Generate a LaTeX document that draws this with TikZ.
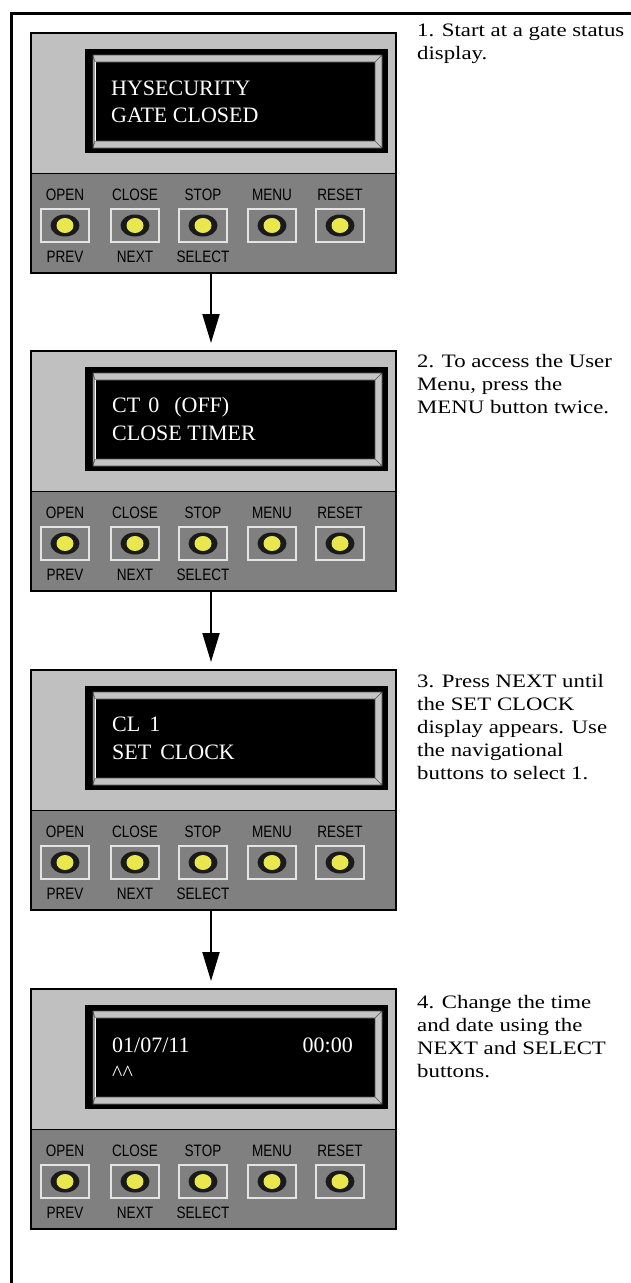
\documentclass[tikz,border=0pt]{standalone}
\usepackage{fontspec}
\setmainfont{Liberation Serif}
\newfontfamily\keyfont[FakeStretch=0.82]{Liberation Sans}
\newfontfamily\stepfont[FakeStretch=1.2]{Liberation Serif}
\usetikzlibrary{arrows.meta,positioning}
\definecolor{panellight}{HTML}{C0C0C0}
\definecolor{paneldark}{HTML}{808080}
\definecolor{bevelgray}{HTML}{C4C4C4}
\definecolor{bevelline}{HTML}{505050}
\definecolor{keyrim}{HTML}{E4E4E4}
\definecolor{keyblack}{HTML}{1A1A1A}
\definecolor{keyyellow}{HTML}{E8E84E}
\tikzset{
  panel/.style={fill=panellight, minimum width=365pt, minimum height=240pt, anchor=north west, inner sep=0pt, outer sep=0pt},
  lcdtext/.style={anchor=base west, text=white, font=\fontsize{22}{26}\selectfont, inner sep=0pt},
  keylabel/.style={font=\keyfont\fontsize{16.5}{18}\selectfont, inner sep=0pt},
  stepnote/.style={anchor=base west, align=left, font=\stepfont\fontsize{19}{23}\selectfont, inner sep=0pt},
  flowarrow/.style={line width=2pt, -{Triangle[length=29pt,width=17pt]}, shorten >=8pt}
}
\begin{document}
\begin{tikzpicture}[x=1pt,y=-1pt]
\useasboundingbox (0,0) rectangle (631,1283);
\draw[line width=3pt] (11.5,1283) -- (11.5,13) -- (631,13);

\foreach \n/\y in {1/33,2/351,3/670,4/989}{
  \node[panel] (p\n) at (31,\y) {};
  \begin{scope}[shift={(31,\y)}]
    \fill[paneldark] (0,140) rectangle (365,240);
    \draw[line width=1pt] (0,140) -- (365,140);
    % display window
    \fill[black] (54,16) rectangle (357,120);
    \fill[bevelgray, even odd rule] (62,22) rectangle (351,115) (64,29) rectangle (344,108);
    \draw[bevelline, line width=0.6pt] (62,22) rectangle (351,115) (64,29) rectangle (344,108)
      (62,22) -- (64,29) (351,22) -- (344,29) (351,115) -- (344,108) (62,115) -- (64,108);
    \draw[white, line width=0.8pt] (64,29) -- (64,108);
    % keys
    \foreach \k/\kx in {OPEN/34,CLOSE/104,STOP/172,MENU/241,RESET/309}{
      \node[keylabel] (p\n-\k) at (\kx,162) {\k};
      \draw[keyrim, line width=1.2pt] (\kx-24,176) rectangle (\kx+24,209);
      \fill[keyblack] (\kx,192.5) ellipse [x radius=14.5pt, y radius=11pt];
      \fill[keyyellow] (\kx,192.5) ellipse [x radius=8.5pt, y radius=7.5pt];
    }
    \foreach \k/\kx in {PREV/34,NEXT/104,SELECT/172}
      \node[keylabel] (p\n-\k) at (\kx,224) {\k};
    \draw[line width=1.5pt] (0,0) rectangle (365,240);
  \end{scope}
}

\node[lcdtext] (d1a) at ([shift={(80,62)}]p1.north west) {HYSECURITY};
\node[lcdtext] (d1b) at ([shift={(80,89)}]p1.north west) {GATE CLOSED};
\node[lcdtext] (d2a) at ([shift={(81,61)}]p2.north west) {CT\hspace{8pt}0\hspace{15pt}(OFF)};
\node[lcdtext] (d2b) at ([shift={(81,89)}]p2.north west) {CLOSE TIMER};
\node[lcdtext] (d3a) at ([shift={(81,61)}]p3.north west) {CL\hspace{9pt}1};
\node[lcdtext] (d3b) at ([shift={(81,89)}]p3.north west) {SET\hspace{9pt}CLOCK};
\node[lcdtext] (d4a) at ([shift={(81,63)}]p4.north west) {01/07/11};
\node[lcdtext, anchor=base east] (d4b) at ([shift={(322,63)}]p4.north west) {00:00};
\node[lcdtext] (d4c) at ([shift={(81,91)}]p4.north west) {\textasciicircum\textasciicircum};

% base of a note is its last line
\node[stepnote] (s1) at (417,59) {1. Start at a gate status\\display.};
\node[stepnote] (s2) at (417,413) {2. To access the User\\Menu, press the\\MENU button twice.};
\node[stepnote] (s3) at (417,779) {3. Press NEXT until\\the SET CLOCK\\display appears. Use\\the navigational\\buttons to select 1.};
\node[stepnote] (s4) at (417,1077) {4. Change the time\\and date using the\\NEXT and SELECT\\buttons.};

\foreach \a/\b in {1/2,2/3,3/4}
  \draw[flowarrow] ([xshift=-2.5pt]p\a.south) -- ([xshift=-2.5pt]p\b.north);
\end{tikzpicture}
\end{document}
